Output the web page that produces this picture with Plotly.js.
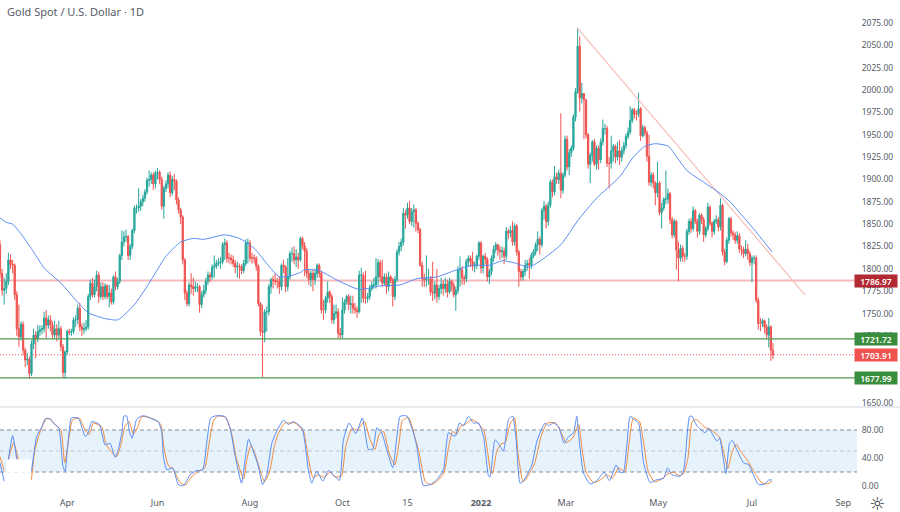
<!DOCTYPE html>
<html><head><meta charset="utf-8">
<script src="https://cdn.plot.ly/plotly-3.0.1.min.js"></script>
<style>html,body{margin:0;padding:0;background:#fff}#c{width:900px;height:512px}</style>
</head><body><div id="c"></div>
<script>
const opens=[
1827,1795,1776,1778,1786,1810,1805,1804,1771,1733,
1724,1738,1709,1698,1699,1683,1716,1726,1722,1730,
1732,1733,1745,1737,1743,1737,1726,1733,1726,1733,
1713,1684,1707,1730,1729,1730,1743,1743,1756,1735,
1732,1733,1735,1769,1784,1771,1780,1793,1769,1780,
1769,1781,1769,1773,1763,1791,1780,1786,1815,1830,
1836,1836,1815,1825,1843,1868,1868,1870,1875,1879,
1886,1899,1900,1905,1895,1907,1908,1900,1870,1890,
1895,1905,1885,1900,1898,1877,1866,1858,1810,1773,
1761,1782,1780,1778,1780,1780,1760,1771,1776,1786,
1793,1791,1802,1803,1806,1807,1808,1827,1829,1812,
1812,1810,1806,1802,1803,1802,1798,1806,1829,1829,
1812,1812,1812,1803,1761,1730,1729,1752,1752,1780,
1788,1787,1786,1786,1780,1804,1802,1780,1791,1817,
1817,1810,1813,1810,1834,1826,1820,1795,1788,1795,
1788,1795,1804,1795,1754,1754,1767,1774,1769,1743,
1750,1752,1728,1726,1754,1763,1769,1760,1761,1756,
1754,1752,1793,1793,1767,1767,1769,1778,1782,1782,
1791,1807,1791,1784,1791,1780,1791,1788,1769,1788,
1819,1825,1830,1862,1860,1868,1853,1864,1866,1851,
1844,1804,1789,1788,1789,1789,1774,1773,1782,1769,
1778,1783,1778,1783,1774,1786,1782,1771,1776,1799,
1799,1790,1789,1808,1812,1808,1803,1804,1814,1829,
1801,1814,1811,1791,1797,1812,1822,1827,1821,1819,
1820,1814,1842,1840,1843,1830,1848,1819,1797,1791,
1797,1804,1806,1804,1815,1819,1827,1833,1827,1865,
1870,1853,1871,1897,1886,1903,1900,1907,1888,1905,
1945,1914,1930,1935,1970,1998,2049,1991,1996,1989,
1950,1917,1927,1942,1917,1935,1922,1942,1957,1957,
1918,1918,1932,1937,1925,1932,1925,1932,1938,1948,
1953,1966,1978,1973,1973,1979,1949,1958,1952,1926,
1897,1905,1896,1885,1896,1863,1868,1878,1878,1884,
1855,1838,1853,1821,1812,1823,1814,1814,1842,1853,
1845,1865,1853,1842,1860,1855,1838,1845,1869,1851,
1842,1853,1855,1847,1871,1819,1808,1832,1856,1840,
1838,1832,1837,1822,1822,1817,1822,1817,1807,1812,
1812,1765,1739,1739,1742,1735,1726,1735,1709];
const highs=[
1832,1800,1790,1795,1818,1816,1810,1806,1775,1760,
1741,1741,1712,1706,1702,1720,1733,1730,1737,1737,
1737,1752,1754,1748,1748,1741,1742,1738,1742,1736,
1716,1709,1732,1733,1733,1746,1748,1760,1762,1739,
1740,1743,1772,1788,1790,1788,1798,1797,1785,1785,
1784,1783,1782,1778,1793,1797,1790,1817,1843,1842,
1844,1838,1828,1845,1871,1872,1890,1878,1883,1889,
1902,1910,1908,1908,1910,1913,1910,1903,1893,1899,
1908,1909,1904,1906,1900,1880,1868,1860,1812,1776,
1785,1795,1790,1786,1784,1782,1775,1782,1790,1797,
1796,1805,1815,1810,1812,1813,1830,1834,1832,1818,
1816,1815,1810,1808,1806,1805,1810,1833,1834,1832,
1818,1816,1814,1805,1763,1760,1755,1758,1783,1790,
1792,1795,1790,1792,1806,1810,1804,1812,1820,1824,
1825,1822,1818,1836,1836,1830,1823,1800,1798,1800,
1800,1806,1806,1798,1765,1770,1786,1776,1772,1760,
1760,1756,1734,1768,1766,1771,1772,1770,1770,1762,
1758,1798,1801,1796,1798,1773,1782,1786,1790,1812,
1811,1810,1810,1795,1795,1797,1793,1790,1792,1822,
1830,1834,1868,1866,1874,1876,1868,1872,1868,1853,
1846,1808,1795,1815,1800,1792,1808,1786,1800,1782,
1790,1787,1790,1788,1790,1788,1785,1780,1803,1814,
1803,1793,1811,1815,1815,1819,1808,1816,1831,1831,
1816,1818,1813,1800,1815,1826,1830,1828,1826,1825,
1824,1847,1845,1848,1853,1851,1850,1821,1800,1800,
1810,1810,1812,1818,1822,1830,1842,1836,1868,1876,
1873,1875,1900,1900,1915,1908,1911,1974,1908,1949,
1949,1934,1938,1973,2002,2070,2060,2008,1992,1990,
1952,1930,1944,1945,1938,1938,1946,1967,1962,1960,
1925,1949,1940,1939,1942,1944,1936,1942,1951,1958,
1982,1980,1980,1977,1997,1981,1961,1960,1955,1950,
1908,1908,1898,1920,1898,1874,1880,1910,1890,1886,
1858,1856,1855,1830,1827,1826,1818,1845,1856,1857,
1870,1867,1856,1862,1862,1858,1848,1874,1871,1853,
1856,1860,1858,1879,1873,1822,1835,1858,1858,1843,
1841,1842,1840,1826,1825,1832,1828,1820,1815,1815,
1815,1768,1745,1744,1743,1738,1745,1737,1717];
const lows=[
1790,1770,1760,1772,1782,1800,1795,1765,1725,1713,
1720,1703,1690,1692,1677,1680,1710,1700,1718,1725,
1727,1729,1722,1733,1730,1722,1722,1719,1722,1708,
1678,1677,1704,1726,1725,1727,1735,1738,1730,1725,
1727,1730,1732,1765,1768,1768,1775,1762,1766,1765,
1766,1766,1757,1760,1760,1776,1777,1783,1810,1825,
1830,1810,1810,1822,1840,1862,1864,1865,1870,1875,
1883,1892,1895,1888,1890,1900,1895,1866,1856,1886,
1890,1880,1882,1888,1872,1862,1850,1805,1765,1758,
1758,1772,1770,1774,1774,1751,1756,1768,1772,1782,
1785,1788,1790,1800,1803,1800,1805,1810,1807,1806,
1805,1802,1795,1790,1789,1794,1795,1803,1806,1808,
1806,1806,1798,1758,1725,1679,1718,1730,1748,1772,
1778,1782,1778,1772,1776,1795,1774,1775,1788,1808,
1805,1802,1800,1808,1822,1792,1790,1782,1780,1775,
1782,1790,1790,1750,1743,1750,1762,1762,1739,1738,
1745,1722,1722,1722,1750,1760,1754,1750,1750,1750,
1745,1750,1762,1762,1761,1762,1765,1775,1778,1778,
1782,1786,1780,1782,1772,1775,1784,1758,1765,1785,
1815,1820,1826,1845,1856,1850,1848,1846,1842,1840,
1802,1780,1780,1780,1782,1770,1764,1766,1762,1765,
1772,1770,1773,1768,1772,1775,1768,1753,1772,1780,
1782,1782,1785,1803,1802,1798,1796,1800,1810,1795,
1795,1805,1786,1783,1793,1808,1818,1815,1810,1812,
1805,1810,1833,1835,1826,1826,1815,1780,1787,1787,
1792,1798,1789,1800,1812,1815,1820,1816,1824,1855,
1845,1848,1868,1880,1882,1895,1895,1879,1884,1902,
1910,1905,1925,1932,1965,1996,1976,1985,1945,1946,
1912,1896,1920,1915,1911,1911,1918,1938,1950,1914,
1890,1912,1920,1918,1921,1916,1920,1928,1934,1945,
1950,1963,1968,1966,1970,1943,1947,1948,1920,1893,
1892,1890,1871,1880,1860,1845,1865,1872,1873,1850,
1834,1835,1799,1786,1808,1808,1808,1810,1838,1840,
1842,1850,1835,1838,1850,1830,1835,1842,1848,1835,
1838,1850,1842,1843,1815,1804,1806,1828,1836,1832,
1828,1828,1818,1815,1812,1814,1810,1803,1785,1805,
1762,1732,1730,1735,1728,1722,1712,1697,1699];
const closes=[
1795,1776,1778,1786,1810,1805,1804,1771,1733,1724,
1738,1709,1698,1699,1683,1716,1726,1722,1730,1732,
1733,1745,1737,1743,1737,1726,1733,1726,1733,1713,
1684,1707,1730,1729,1730,1743,1743,1756,1735,1732,
1733,1735,1769,1784,1771,1780,1793,1769,1780,1769,
1781,1769,1773,1763,1791,1780,1786,1815,1830,1836,
1836,1815,1825,1843,1868,1868,1870,1875,1879,1886,
1899,1900,1905,1895,1907,1908,1900,1870,1890,1895,
1905,1885,1900,1898,1877,1866,1858,1810,1773,1761,
1782,1780,1778,1780,1780,1760,1771,1776,1786,1793,
1791,1802,1803,1806,1807,1808,1827,1829,1812,1812,
1810,1806,1802,1803,1802,1798,1806,1829,1829,1812,
1812,1812,1803,1761,1730,1729,1752,1752,1780,1788,
1787,1786,1786,1780,1804,1802,1780,1791,1817,1817,
1810,1813,1810,1834,1826,1820,1795,1788,1795,1788,
1795,1804,1795,1754,1754,1767,1774,1769,1743,1750,
1752,1728,1726,1754,1763,1769,1760,1761,1756,1754,
1752,1793,1793,1767,1767,1769,1778,1782,1782,1791,
1807,1791,1784,1791,1780,1791,1788,1769,1788,1819,
1825,1830,1862,1860,1868,1853,1864,1866,1851,1844,
1804,1789,1788,1789,1789,1774,1773,1782,1769,1778,
1783,1778,1783,1774,1786,1782,1771,1776,1799,1799,
1790,1789,1808,1812,1808,1803,1804,1814,1829,1801,
1814,1811,1791,1797,1812,1822,1827,1821,1819,1820,
1814,1842,1840,1843,1830,1848,1819,1797,1791,1797,
1804,1806,1804,1815,1819,1827,1833,1827,1865,1870,
1853,1871,1897,1886,1903,1900,1907,1888,1905,1945,
1914,1930,1935,1970,1998,2049,1991,1996,1989,1950,
1917,1927,1942,1917,1935,1922,1942,1957,1957,1918,
1918,1932,1937,1925,1932,1925,1932,1938,1948,1953,
1966,1978,1973,1973,1979,1949,1958,1952,1926,1897,
1905,1896,1885,1896,1863,1868,1878,1878,1884,1855,
1838,1853,1821,1812,1823,1814,1814,1842,1853,1845,
1865,1853,1842,1860,1855,1838,1845,1869,1851,1842,
1853,1855,1847,1871,1819,1808,1832,1856,1840,1838,
1832,1837,1822,1822,1817,1822,1817,1807,1812,1812,
1765,1739,1739,1742,1735,1726,1735,1709,1703.91];

const maIdx=[0,3,6,11,16,21,29,38,42,49,56,64,71,79,86,92,97,107,114,121,127,133,138,143,145,152,160,171,181,190.5,198.4,208,217.4,225,233,239,244.4,252,259,267,275.4,284,295,301.5,307,312,318.2,322.2,327,335,343,347.6,352.4,358.7,367.5];
const maVal=[1857,1852,1850,1836,1819,1801,1784,1760,1751,1745,1743,1760,1784,1814,1830,1834,1833,1838,1834,1823,1806,1791,1792,1796,1799,1798,1788,1777,1781,1782,1789,1791,1799,1804,1804,1809,1807,1802,1812,1827,1855,1879,1903,1925,1937,1940,1937,1925,1910,1897,1884,1875,1862,1845,1819];

const trendIdx=[274.8,383.3];
const trendVal=[2069.5,1770.7];

const kIdx=[0,2,3,4,6,8,9,15,17.5,20,21.5,24,26,28,30,31,32.5,34,37.3,40.5,41.6,43.7,47.3,50,52.4,54.8,56.3,58,59,60.3,61.6,62.9,65,67.5,69.8,72.2,75.4,77,77.8,79.4,82.2,84.9,87.3,90.5,93.7,96.5,98.4,100.3,102.4,107,109.5,112,115,116.7,118.3,120.6,123,125,127,129.4,131.7,134.9,137.3,139.7,143.7,145.2,146.8,148.4,150.8,153.7,156.3,158.7,161.6,163.5,166.2,169.4,172.5,175.4,177.5,179.4,181.7,184.1,187,188.9,190.5,193.7,196.8,198.4,201.6,204.8,207.9,211.1,213.5,216.7,218.7,220.6,223,225.4,227.8,230.2,232.6,233.3,235.7,238.1,239.7,242.1,244.1,245.7,247.6,249.2,253.2,255.6,259.5,261.1,263.5,265.9,268.6,270.6,273,274.6,275.9,277.8,281,284.1,287.6,290.2,293.3,295.3,296.8,298.4,300,301.9,304,306.4,309.5,312.7,315.9,317.8,319.9,323.8,325.4,328.3,329.4,331.8,335.7,337.3,341.3,342.6,343.7,345.6,347.3,348.6,350.8,354,356.4,361.1,364.3,365.9,367.5];
const kVal=[33,7,null,38,72,38,null,21,71,85,96,96,88,83,28,21,66,97,97,71,73,92,88,59,61,41,52,76,100,100,78,68,95,100,99.5,96,92,76,42,23,26,2,0.5,16,22,23,61,97,100,99.5,83,42,4,38,67,50,28,2,16,61,78,94,88,92,83,61,23,4,21,7,22,16,8,66,90,75,97,52,53,83,76,52,26,69,99.5,100,76,57,0.5,2,9,23,76,71,90,86,99.5,90,90,71,14,13,66,57,49.5,95,99.5,66,4,7,30,64,90,86,90,85,61,70,76,99.5,61,18.5,3,7.6,19.5,7.6,30,19.5,19.5,57,99.5,95,90,33,5,9,11,26,16,14,21,99.5,99.5,86,76,83,64,68.5,52,17.6,61,65,52,33,30.5,2,3,8.6,8.6];
const dIdx=[0,2,3,4,6.5,8.7,9,15,16.5,18.5,20.5,22.5,24.5,26.5,29,30.8,32.5,34.5,37.8,40.5,42.5,44.5,48.5,50.5,53.5,55.5,57.5,59.5,61.5,63.5,65.5,67.5,70.5,73.5,76.5,78,80,82.5,85.5,88,91.5,94.5,97.5,99.5,101.5,103.5,107.5,110.5,112.5,116,117.5,119.5,121.5,124.5,126,128.5,130.5,132.5,135.5,138,140.5,144.5,146.5,149,151.5,154.5,157,159.5,162.5,164.5,167.5,170,173.5,176,178.5,180.5,182.5,185.5,188,190,191.5,194.5,197.5,199.5,202.5,205.5,208.5,211.5,213.5,215.5,217.5,219.5,221.5,224.5,227.5,230.5,233.5,234.5,236.5,238.5,240.5,243,245,246.5,249,250.5,254.5,257.5,260.5,264.5,267.5,269.5,272.5,275.5,277,279,282.5,285.5,289,291.5,294.5,297.5,299.5,301.5,304.5,306.5,308.5,311.5,314.5,317.5,320.5,323.5,325.5,327.5,329.5,331.5,335.5,338.5,342.5,344.5,346.5,348.5,350.5,352.5,355.5,357.5,359.5,362.5,365.5,367.5];
const dVal=[42,22,null,38,62,38,null,9,50,72,88,97,93,87,80,33,62,94,97,80,74,90,84,60,47,42,58,85,92,74,84,99,98,95,88,56,30,24,6,1,14,21,26,60,92,100,98,72,40,10,38,58,45,16,6,22,55,75,90,90,90,78,45,12,16,12,20,13,14,55,82,80,92,68,52,74,78,45,30,62,93,98,70,48,6,2,8,20,55,78,74,86,88,95,90,78,22,18,50,60,62,90,97,50,6,10,32,70,90,90,74,62,68,88,55,20,5,8,16,11,26,20,62,97,92,60,22,6,9,16,20,15,18,40,92,95,84,80,70,48,25,48,60,50,38,28,18,5,3,7];

const tickPos=[32,75,119,163,194,229,269.5,313.3,358,401.5];
const tickLabels=['Apr','Jun','Aug','Oct','15','<b>2022</b>','Mar','May','Jul','Sep'];
const priceTicks=[1650,1725,1750,1775,1800,1825,1850,1875,1900,1925,1950,1975,2000,2025,2050,2075];
const stochTicks=[0,40,80];

const resist=1786.97, mid=1721.72, last=1703.91, support=1677.99;
const bandHi=80, bandMid=50, bandLo=20;

const FONT='"Noto Sans", "Open Sans", sans-serif';
const GREY='#555b66';
const bars=closes.map((_,i)=>i);
const XMAX=408;
const H=490, W=857;

const candle={type:'candlestick',x:bars,open:opens,high:highs,low:lows,close:closes,xaxis:'x',yaxis:'y',
  increasing:{line:{color:'#26a69a',width:1},fillcolor:'#26a69a'},
  decreasing:{line:{color:'#ef5350',width:1},fillcolor:'#ef5350'},
  whiskerwidth:0,hoverinfo:'skip',showlegend:false};
const ma={type:'scatter',mode:'lines',x:maIdx,y:maVal,xaxis:'x',yaxis:'y',line:{color:'#5b8cf5',width:1,shape:'spline',smoothing:0.6},hoverinfo:'skip',showlegend:false};
const trend={type:'scatter',mode:'lines',x:trendIdx,y:trendVal,xaxis:'x',yaxis:'y',line:{color:'#f7bdb5',width:1.2},hoverinfo:'skip',showlegend:false};
const stochD={type:'scatter',mode:'lines',x:dIdx,y:dVal,xaxis:'x2',yaxis:'y2',line:{color:'#f08a3c',width:1,shape:'spline',smoothing:0.5},connectgaps:false,hoverinfo:'skip',showlegend:false};
const stochK={type:'scatter',mode:'lines',x:kIdx,y:kVal,xaxis:'x2',yaxis:'y2',line:{color:'#5b8cf5',width:1,shape:'spline',smoothing:0.5},connectgaps:false,hoverinfo:'skip',showlegend:false};

const hline=(y,color,width,dash,layer)=>({type:'line',xref:'x',yref:'y',x0:0,x1:XMAX,y0:y,y1:y,layer:layer||'above',line:{color,width,dash:dash||'solid'}});
const bline=(y,color)=>({type:'line',xref:'x2',yref:'y2',x0:0,x1:XMAX,y0:y,y1:y,layer:'below',line:{color,width:1,dash:'4px,3px'}});

const shapes=[
  hline(resist,'#f3b9bd',2,'solid','below'),
  hline(mid,'#4f9a55',1.2),
  hline(last,'#ef5350',1,'1px,2px','below'),
  hline(support,'#4f9a55',1.2),
  {type:'rect',xref:'x2',yref:'y2',x0:0,x1:XMAX,y0:bandLo,y1:bandHi,layer:'below',fillcolor:'#e6f3fd',line:{width:0}},
  bline(bandHi,'#8a8f99'),bline(bandMid,'#c4c8cf'),bline(bandLo,'#8a8f99'),
  {type:'rect',xref:'x2',yref:'y2',x0:3,x1:15,y0:bandLo-1,y1:38,layer:'below',fillcolor:'#ffffff',line:{width:0}},
  {type:'line',xref:'paper',yref:'paper',x0:0,x1:900/W,y0:1-407/H,y1:1-407/H,line:{color:'#e0e3eb',width:1.5}}
];

const tag=(y,bg)=>({xref:'paper',yref:'y',x:876/W,y:y,text:y.toFixed(2),showarrow:false,xanchor:'center',yanchor:'middle',
  bgcolor:bg,width:42,height:12,borderpad:0,font:{family:FONT,size:8.5,color:'#ffffff',weight:600}});
const annotations=[
  tag(resist,'#b22833'),tag(mid,'#388e3c'),tag(last,'#ef5350'),tag(support,'#388e3c'),
  {xref:'paper',yref:'paper',x:877/W,y:-13/H,text:'☼',showarrow:false,xanchor:'center',yanchor:'middle',font:{family:'DejaVu Sans',size:18,color:'#333'}}
];

const layout={
  width:900,height:512,margin:{l:0,r:43,t:0,b:22,pad:0},boxgap:0.15,
  paper_bgcolor:'#ffffff',plot_bgcolor:'#ffffff',showlegend:false,dragmode:false,
  title:{text:'Gold Spot / U.S. Dollar · 1D',x:7/900,xanchor:'left',xref:'container',y:1-12/512,yanchor:'middle',yref:'container',font:{family:FONT,size:11,color:GREY}},
  xaxis:{domain:[0,1],range:[0,XMAX],anchor:'y',matches:'x2',showticklabels:false,showgrid:false,zeroline:false,showline:false,ticks:'',rangeslider:{visible:false},fixedrange:true},
  xaxis2:{domain:[0,1],range:[0,XMAX],anchor:'y2',tickmode:'array',tickvals:tickPos,ticktext:tickLabels,showgrid:false,zeroline:false,showline:false,ticks:'outside',ticklen:4,tickcolor:'rgba(0,0,0,0)',tickfont:{family:FONT,size:9,color:GREY},fixedrange:true},
  yaxis:{domain:[1-406/H,1],range:[1646.6,2100.7],side:'right',anchor:'x',tickmode:'array',tickvals:priceTicks,ticktext:priceTicks.map(v=>v.toFixed(2)),showgrid:false,zeroline:false,showline:false,ticks:'outside',ticklen:2,tickcolor:'rgba(0,0,0,0)',tickfont:{family:FONT,size:8.5,color:GREY},fixedrange:true},
  yaxis2:{domain:[0,82/H],range:[-5.7,111.4],side:'right',anchor:'x2',tickmode:'array',tickvals:stochTicks,ticktext:stochTicks.map(v=>v.toFixed(2)),showgrid:false,zeroline:false,showline:false,ticks:'outside',ticklen:2,tickcolor:'rgba(0,0,0,0)',tickfont:{family:FONT,size:8.5,color:GREY},fixedrange:true},
  shapes,annotations
};
Plotly.newPlot('c',[trend,candle,ma,stochD,stochK],layout,{staticPlot:true,displayModeBar:false});
</script></body></html>
